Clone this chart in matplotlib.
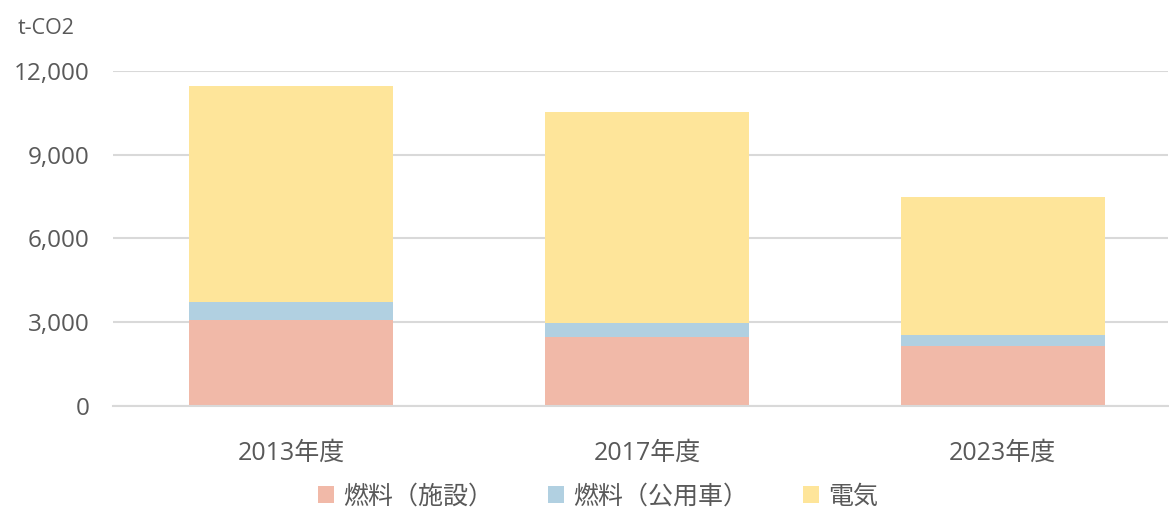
import matplotlib.pyplot as plt
from matplotlib.ticker import FuncFormatter

plt.rcParams['font.family'] = ['Open Sans', 'Noto Sans CJK JP', 'DejaVu Sans']

# Data (t-CO2)
years = ['2013年度', '2017年度', '2023年度']
fuel_facility = [3065, 2455, 2143]
fuel_vehicle = [646, 524, 405]
electricity = [7738, 7537, 4932]
series_names = ['燃料（施設）', '燃料（公用車）', '電気']
colors = ['#F1B9A8', '#B1D0E1', '#FEE59A']

text_color = '#595959'
grid_color = '#D9D9D9'

fig = plt.figure(figsize=(11.69, 5.08), dpi=100)
ax = fig.add_axes([113 / 1169, 1 - 405.7 / 508, (1168 - 113) / 1169, (405.7 - 71) / 508])

x = range(len(years))
width = 0.573
bottom = [0] * len(years)
handles = []
for vals, name, col in zip([fuel_facility, fuel_vehicle, electricity], series_names, colors):
    h = ax.bar(x, vals, width, bottom=bottom, color=col, label=name, zorder=3)
    handles.append(h)
    bottom = [b + v for b, v in zip(bottom, vals)]

ax.set_ylim(0, 12000)
ax.set_xlim(-0.5, 2.464)
ax.set_yticks([0, 3000, 6000, 9000, 12000])
ax.yaxis.set_major_formatter(FuncFormatter(lambda v, p: f'{int(v):,}'))
ax.set_xticks(list(x))
ax.set_xticklabels(years)
ax.grid(axis='y', color=grid_color, linewidth=1.5, zorder=0)
for s in ['top', 'right', 'left']:
    ax.spines[s].set_visible(False)
ax.spines['bottom'].set_color(grid_color)
ax.spines['bottom'].set_linewidth(1.5)
ax.spines['bottom'].set_zorder(4)
ax.tick_params(axis='both', length=0, colors=text_color)
ax.tick_params(axis='y', pad=17, labelsize=17.5)
ax.tick_params(axis='x', pad=25, labelsize=18)

fig.text(18 / 1169, 1 - 29 / 508, 't-CO2', fontsize=15.5, color=text_color, va='center', ha='left')

fig.legend(handles=handles, labels=series_names, loc='center', bbox_to_anchor=(598 / 1169, 1 - 497 / 508),
           ncol=3, frameon=False, fontsize=18, handlelength=0.64, handleheight=0.64,
           handletextpad=0.36, columnspacing=2.2, labelcolor=text_color)

fig.savefig('out.png', dpi=100, facecolor='white')
